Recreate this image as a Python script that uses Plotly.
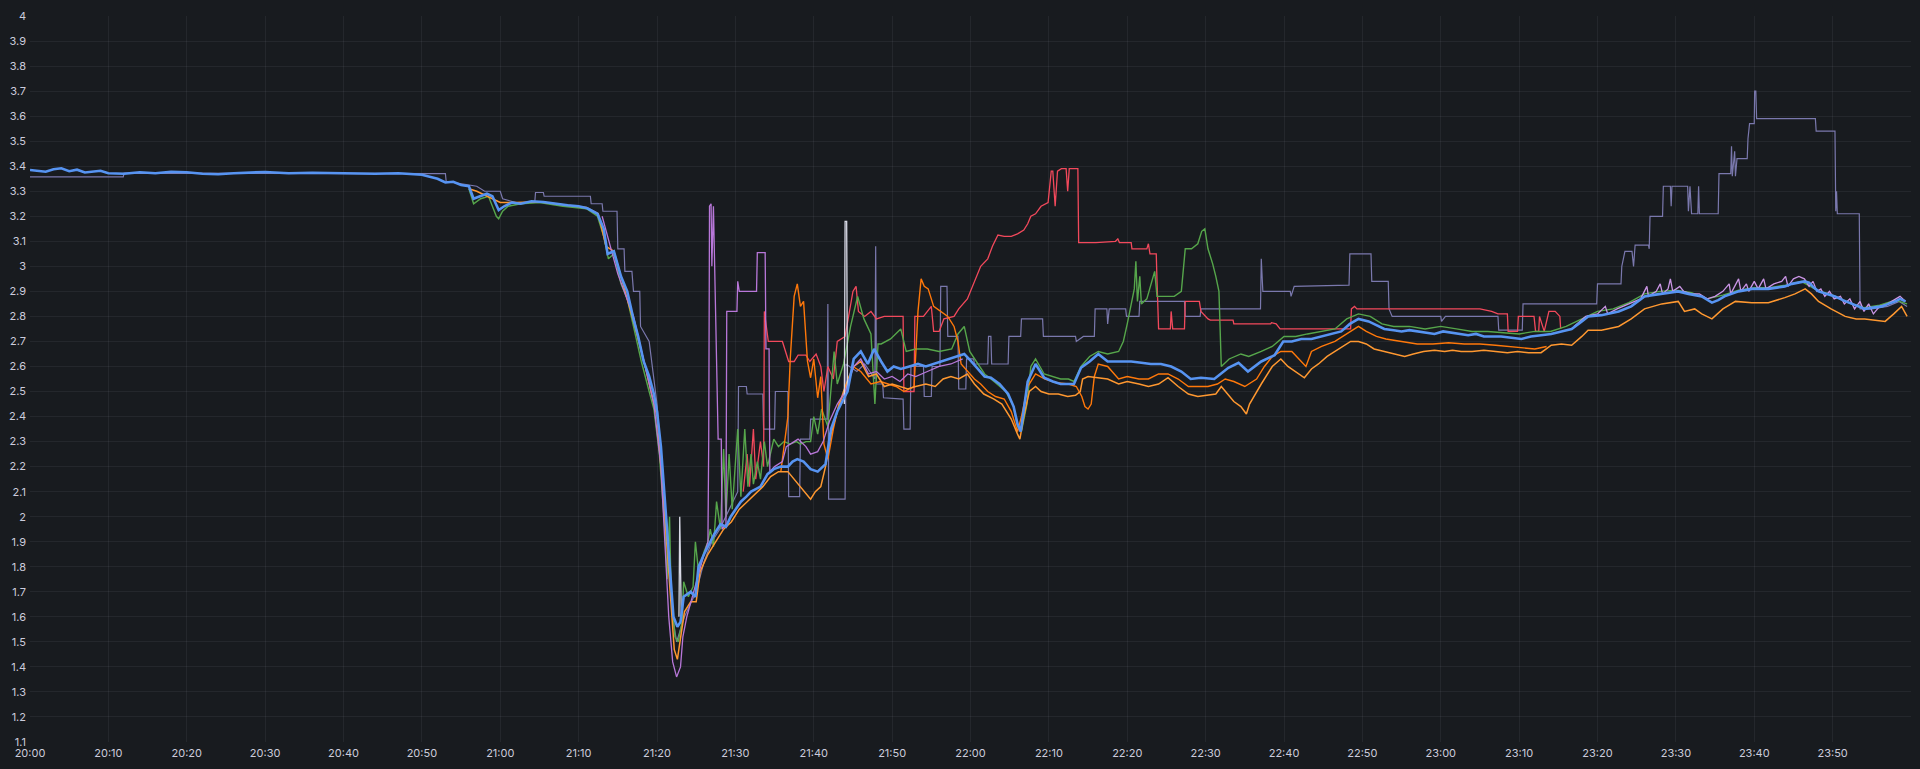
import pandas as pd
import plotly.graph_objects as go

# minutes after 20:00 and values
blue_min = [0, 1, 2, 3, 4, 5, 6, 7, 8, 9, 10, 12, 14, 16, 18, 20, 22, 24, 26, 28, 30, 33, 36, 40, 44, 47, 50, 52, 53, 54, 55, 56, 56.6, 57, 58.3, 59, 59.8, 60.5, 61.5, 62.6, 64, 65.5, 67, 68.6, 70, 71.1, 72.4, 73.2, 73.7, 74.5, 75.4, 76.2, 77, 77.6, 78.3, 79, 79.6, 80, 80.5, 81.1, 81.5, 82.1, 82.6, 83, 83.4, 84.3, 84.9, 85.3, 86, 86.5, 87.3, 88.1, 88.8, 89.4, 90.1, 90.7, 91.4, 92, 92.6, 93.2, 94.1, 94.9, 95.8, 96.7, 97.3, 97.9, 98.7, 99.6, 100.5, 101.5, 102.2, 103, 103.8, 104.3, 105.1, 106, 106.9, 107.7, 108.6, 109.4, 110.2, 111.1, 112.2, 113.3, 114.3, 115.3, 116.4, 117.5, 118.3, 119.2, 120.1, 120.9, 121.8, 122.6, 123.7, 124.8, 125.5, 126, 126.4, 127.3, 128.3, 129.4, 130.5, 131.5, 132.4, 133.2, 134.1, 135.2, 136.3, 137.5, 139.2, 140.5, 141.8, 143, 144.3, 145.6, 146.9, 148.1, 149.4, 151.1, 152.9, 154.2, 155.4, 157.1, 158.8, 159.9, 161, 162.2, 163.5, 164.8, 166, 167.3, 168.4, 169.5, 170.8, 171.8, 172.8, 174, 175, 176, 177.1, 178.1, 179.2, 180.3, 181.5, 182.5, 183.5, 184.5, 185.5, 186.6, 187.7, 189, 190.3, 191.5, 192.8, 194.1, 195.4, 196.7, 198, 198.8, 200.5, 202.7, 204.3, 206, 207, 208.2, 209.3, 210.3, 211.6, 212.4, 213.3, 214.6, 215.4, 216.2, 217.1, 218, 218.9, 219.7, 220.7, 221.8, 222.9, 223.9, 224.8, 225.7, 226.4, 227, 227.6, 228.2, 229.3, 230.3, 231.3, 232.4, 233.3, 234.1, 235.2, 236.3, 237.1, 238, 238.6, 239.3]
blue_val = [3.385, 3.38, 3.378, 3.388, 3.392, 3.38, 3.386, 3.375, 3.378, 3.382, 3.372, 3.37, 3.376, 3.372, 3.378, 3.376, 3.37, 3.368, 3.372, 3.375, 3.377, 3.372, 3.374, 3.372, 3.37, 3.372, 3.366, 3.35, 3.335, 3.338, 3.325, 3.32, 3.27, 3.275, 3.29, 3.28, 3.225, 3.24, 3.255, 3.25, 3.26, 3.257, 3.25, 3.244, 3.24, 3.232, 3.21, 3.15, 3.05, 3.06, 2.96, 2.9, 2.79, 2.72, 2.62, 2.56, 2.49, 2.42, 2.28, 2.02, 1.84, 1.6, 1.56, 1.58, 1.68, 1.7, 1.68, 1.8, 1.85, 1.88, 1.93, 1.97, 1.96, 2.0, 2.03, 2.06, 2.08, 2.1, 2.11, 2.12, 2.17, 2.19, 2.2, 2.2, 2.22, 2.23, 2.22, 2.19, 2.18, 2.21, 2.35, 2.42, 2.47, 2.5, 2.63, 2.66, 2.61, 2.67, 2.62, 2.58, 2.6, 2.59, 2.6, 2.61, 2.6, 2.61, 2.62, 2.63, 2.64, 2.65, 2.62, 2.59, 2.56, 2.555, 2.53, 2.49, 2.44, 2.37, 2.34, 2.54, 2.61, 2.555, 2.54, 2.53, 2.53, 2.53, 2.595, 2.62, 2.65, 2.62, 2.62, 2.62, 2.615, 2.61, 2.61, 2.6, 2.58, 2.55, 2.555, 2.55, 2.595, 2.615, 2.58, 2.62, 2.645, 2.7, 2.7, 2.71, 2.71, 2.72, 2.73, 2.74, 2.77, 2.79, 2.78, 2.765, 2.75, 2.745, 2.74, 2.745, 2.74, 2.735, 2.73, 2.74, 2.735, 2.73, 2.725, 2.73, 2.72, 2.72, 2.72, 2.715, 2.71, 2.72, 2.725, 2.73, 2.74, 2.75, 2.78, 2.8, 2.805, 2.82, 2.84, 2.88, 2.885, 2.89, 2.895, 2.9, 2.89, 2.885, 2.88, 2.855, 2.865, 2.88, 2.89, 2.9, 2.905, 2.91, 2.91, 2.91, 2.915, 2.92, 2.93, 2.935, 2.94, 2.935, 2.915, 2.9, 2.89, 2.88, 2.865, 2.85, 2.84, 2.83, 2.835, 2.84, 2.85, 2.86, 2.87, 2.86]

orange_a_min = [56, 57, 58, 60, 62, 65, 68, 71, 72.5, 73.5, 74.5, 75.5, 77, 78.5, 80, 81, 81.6, 82.2, 82.6, 83, 83.5, 84.3, 85, 85.5, 86.5, 87.5, 88.5, 89.5, 90.5, 91.5, 92.5, 93.5, 94.5, 95.5, 96.7, 97.5, 98.3, 99, 99.6, 100.2, 100.9, 101.5, 102.2, 103, 103.8, 104.5, 105.1, 106, 107, 108, 109, 110, 111, 112, 113, 114.3, 115.5, 116.5, 117.5, 118.5, 119.6, 120.5, 121.7, 123, 124, 125.2, 126, 126.3, 126.8, 127.5, 128.3, 129, 130, 131.2, 132.4, 133.4, 134, 134.3, 135, 136.3, 137.5, 138.9, 140, 141.5, 142.7, 144, 145.2, 146.5, 147.8, 149, 150.3, 151.3, 152, 153, 153.6, 154.5, 155.2, 155.6, 156.3, 157.1, 158.5, 159.6, 160.5, 161.5, 162.6, 163.5, 164.4, 165.5, 166.5, 167.5, 168.5, 169.5, 170.5, 171.5, 172.8, 174, 175.4, 176.5, 177.8, 179.2, 180.5, 181.5, 182.6, 184, 185.5, 187, 188.5, 189.8, 191.2, 192.8, 194.1, 195.4, 196.7, 198, 198.8, 200.5, 202.7, 204.3, 206, 208.2, 210.3, 211.1, 212.4, 213.3, 214.6, 216, 217.6, 219.7, 221.8, 223.9, 225.2, 226.5, 227.3, 228.2, 229.8, 231.6, 233, 234.1, 235.5, 236.7, 237.8, 238.8, 239.5]
orange_a_val = [3.31, 3.3, 3.285, 3.255, 3.255, 3.258, 3.246, 3.235, 3.21, 3.08, 3.06, 2.95, 2.78, 2.6, 2.4, 2.0, 1.72, 1.47, 1.43, 1.52, 1.62, 1.66, 1.66, 1.78, 1.85, 1.9, 1.95, 1.98, 2.03, 2.06, 2.09, 2.12, 2.16, 2.18, 2.18, 2.15, 2.12, 2.09, 2.07, 2.1, 2.12, 2.2, 2.33, 2.42, 2.5, 2.56, 2.6, 2.62, 2.56, 2.57, 2.52, 2.53, 2.52, 2.51, 2.52, 2.53, 2.52, 2.55, 2.56, 2.55, 2.57, 2.53, 2.49, 2.47, 2.45, 2.39, 2.33, 2.31, 2.4, 2.5, 2.52, 2.5, 2.49, 2.49, 2.48, 2.485, 2.5, 2.55, 2.56, 2.555, 2.55, 2.53, 2.54, 2.53, 2.52, 2.53, 2.555, 2.52, 2.49, 2.48, 2.485, 2.49, 2.52, 2.48, 2.46, 2.44, 2.41, 2.45, 2.49, 2.53, 2.6, 2.63, 2.6, 2.58, 2.555, 2.59, 2.61, 2.64, 2.66, 2.68, 2.7, 2.7, 2.69, 2.67, 2.66, 2.65, 2.64, 2.65, 2.66, 2.665, 2.66, 2.665, 2.66, 2.66, 2.665, 2.66, 2.655, 2.66, 2.655, 2.655, 2.685, 2.69, 2.685, 2.72, 2.745, 2.745, 2.76, 2.79, 2.83, 2.85, 2.86, 2.82, 2.83, 2.81, 2.79, 2.83, 2.86, 2.855, 2.855, 2.875, 2.89, 2.91, 2.89, 2.86, 2.83, 2.8, 2.79, 2.79, 2.785, 2.78, 2.81, 2.84, 2.8]

orange_b_min = [95.8, 96.7, 97, 97.5, 97.9, 98.3, 98.7, 99.2, 99.6, 100, 100.5, 100.9, 101.3, 101.8, 102.5, 103.2, 104, 105, 106, 107.3, 108.5, 109.4, 110.5, 111.5, 112.8, 113.3, 113.7, 114.1, 114.6, 115.3, 116.2, 117.1, 117.9, 118.4, 118.8, 119.6, 120.5, 121.3, 122.2, 123.2, 124.3, 125.2, 126, 126.5, 127.3, 128.3, 129.5, 131, 132.5, 133.5, 134.2, 134.6, 135, 135.4, 135.8, 136.3, 137.5, 138.9, 140, 141.5, 142.7, 144, 145.2, 146.5, 147.8, 149, 150.3, 151.5, 152.5, 153.6, 155, 156.5, 157.5, 158.5, 159.6, 161, 162.2, 162.8, 163.5, 164.8, 166.5, 168, 169.5, 170.5, 171.8, 173, 175, 177, 179, 181, 183, 185, 187, 189, 190.5, 192, 193.5]
orange_b_val = [2.18, 2.4, 2.63, 2.88, 2.93, 2.84, 2.86, 2.62, 2.555, 2.63, 2.475, 2.56, 2.29, 2.23, 2.35, 2.45, 2.5, 2.6, 2.58, 2.53, 2.54, 2.53, 2.52, 2.5, 2.52, 2.82, 2.95, 2.92, 2.91, 2.84, 2.82, 2.8, 2.76, 2.7, 2.61, 2.58, 2.55, 2.53, 2.5, 2.48, 2.47, 2.42, 2.34, 2.4, 2.52, 2.57, 2.55, 2.535, 2.53, 2.52, 2.48, 2.44, 2.43, 2.45, 2.56, 2.61, 2.6, 2.55, 2.56, 2.55, 2.55, 2.57, 2.57, 2.55, 2.52, 2.52, 2.52, 2.53, 2.55, 2.54, 2.52, 2.55, 2.6, 2.64, 2.66, 2.66, 2.62, 2.6, 2.66, 2.68, 2.7, 2.73, 2.76, 2.74, 2.72, 2.71, 2.7, 2.69, 2.69, 2.695, 2.69, 2.69, 2.685, 2.68, 2.675, 2.67, 2.68]

green_min = [56, 56.6, 57.5, 58.5, 59.5, 59.8, 60.3, 61, 62.6, 65, 68, 71, 72.4, 73.2, 73.8, 74.5, 75.4, 76.2, 77, 78, 79, 79.6, 80.3, 81, 81.3, 81.6, 81.8, 82.3, 82.7, 83.2, 83.4, 84, 84.6, 84.9, 85.3, 86, 86.5, 86.8, 87.2, 87.6, 88.1, 88.5, 88.8, 89.2, 89.6, 90, 90.3, 90.7, 91.2, 91.6, 92, 92.3, 92.8, 93.2, 93.7, 94.1, 94.9, 95.5, 96.2, 97, 97.8, 98.3, 99, 99.6, 100, 100.5, 101, 101.8, 102.6, 103, 103.8, 104.7, 105.6, 106.4, 107.3, 107.8, 108.2, 108.6, 109.8, 111.1, 111.8, 113, 114.5, 116, 117.6, 118.4, 119.2, 119.9, 120.9, 121.8, 123, 124.5, 125.5, 126, 126.5, 127.2, 127.7, 128.3, 129.4, 130.5, 131.5, 132.5, 133.2, 134.1, 135.2, 136.3, 137.5, 138.9, 139.5, 140, 140.9, 141.1, 141.3, 141.6, 141.8, 142.5, 143.5, 143.8, 145, 146, 146.9, 147.4, 148.2, 149, 149.5, 149.9, 150.3, 150.9, 151.3, 151.7, 152, 153, 154.5, 155.5, 157.1, 158.5, 160, 161.5, 163, 164.8, 166.5, 168, 169.5, 171, 172.5, 174, 176, 178, 180, 182, 184, 186, 188, 190, 192, 194, 196, 198, 200, 202, 204, 206, 208, 210, 212, 214, 216, 218, 220, 222, 224, 226, 228, 230, 232, 234, 236, 238, 239.5]
green_val = [3.31, 3.25, 3.27, 3.28, 3.2, 3.19, 3.22, 3.24, 3.25, 3.255, 3.24, 3.23, 3.2, 3.12, 3.03, 3.05, 2.93, 2.87, 2.76, 2.62, 2.5, 2.43, 2.25, 1.95, 1.75, 2.0, 1.7, 1.52, 1.5, 1.58, 1.74, 1.68, 1.72, 1.9, 1.78, 1.86, 1.9, 1.95, 1.88, 2.06, 1.95, 2.27, 2.0, 2.25, 2.03, 2.2, 2.35, 2.08, 2.35, 2.12, 2.25, 2.13, 2.22, 2.15, 2.3, 2.2, 2.31, 2.28, 2.3, 2.29, 2.3, 2.29, 2.3, 2.3, 2.4, 2.33, 2.43, 2.36, 2.66, 2.53, 2.61, 2.76, 2.88, 2.79, 2.73, 2.45, 2.69, 2.69, 2.71, 2.75, 2.66, 2.67, 2.67, 2.66, 2.67, 2.73, 2.76, 2.66, 2.61, 2.57, 2.54, 2.5, 2.44, 2.36, 2.34, 2.45, 2.6, 2.63, 2.57, 2.56, 2.55, 2.55, 2.54, 2.6, 2.64, 2.66, 2.65, 2.66, 2.7, 2.77, 2.91, 3.02, 2.86, 2.96, 2.85, 2.87, 2.98, 2.88, 2.88, 2.88, 2.9, 3.07, 3.07, 3.09, 3.14, 3.15, 3.07, 3.01, 2.96, 2.9, 2.6, 2.63, 2.65, 2.64, 2.66, 2.68, 2.72, 2.72, 2.73, 2.74, 2.75, 2.79, 2.81, 2.8, 2.77, 2.76, 2.76, 2.75, 2.76, 2.75, 2.74, 2.74, 2.735, 2.73, 2.74, 2.74, 2.76, 2.79, 2.82, 2.83, 2.855, 2.89, 2.9, 2.905, 2.895, 2.87, 2.885, 2.905, 2.915, 2.915, 2.925, 2.94, 2.905, 2.885, 2.855, 2.835, 2.845, 2.865, 2.85]

red_min = [91, 91.5, 91.8, 92.3, 92.6, 93.2, 93.6, 93.7, 94.2, 95, 96, 96.8, 97.5, 98, 99, 99.5, 100.3, 100.9, 101.3, 101.8, 102.5, 103, 104, 105, 105.4, 105.7, 106.5, 107.3, 108, 109, 110, 111.4, 111.5, 112.8, 112.9, 114, 115, 115.3, 116, 116.6, 117.9, 118.5, 119.6, 120.4, 121.3, 122.2, 122.8, 123.5, 124.3, 125.2, 126, 126.8, 127.3, 127.7, 128.3, 129, 129.9, 130.3, 130.5, 130.8, 131.1, 131.6, 132.2, 132.4, 132.6, 133.7, 133.8, 136, 138.5, 138.8, 139, 140.5, 140.6, 142.5, 142.7, 142.9, 143.7, 143.8, 144, 145.5, 145.6, 145.8, 147.3, 147.4, 149.2, 149.4, 150.3, 150.6, 153.5, 153.6, 158.3, 158.4, 159, 159.5, 168.5, 168.6, 169, 169.3, 185, 186.5, 187.3, 188.5, 188.6, 189.8, 189.9, 191.9, 192.1, 192.5, 192.6, 193.2, 193.8, 194.6, 195.2, 195.3]
red_val = [2.1, 2.25, 2.12, 2.35, 2.15, 2.3, 2.2, 2.82, 2.7, 2.7, 2.7, 2.62, 2.62, 2.645, 2.645, 2.62, 2.65, 2.6, 2.5, 2.6, 2.55, 2.7, 2.72, 2.9, 2.92, 2.82, 2.8, 2.82, 2.79, 2.8, 2.8, 2.8, 2.5, 2.5, 2.8, 2.8, 2.84, 2.74, 2.74, 2.79, 2.8, 2.83, 2.87, 2.93, 3.0, 3.03, 3.08, 3.125, 3.12, 3.12, 3.13, 3.145, 3.17, 3.2, 3.21, 3.24, 3.255, 3.38, 3.38, 3.24, 3.38, 3.39, 3.39, 3.3, 3.39, 3.39, 3.095, 3.095, 3.1, 3.11, 3.095, 3.095, 3.07, 3.07, 3.09, 3.05, 3.05, 2.94, 2.75, 2.75, 2.82, 2.75, 2.75, 2.86, 2.86, 2.82, 2.79, 2.785, 2.785, 2.77, 2.77, 2.775, 2.77, 2.75, 2.75, 2.83, 2.84, 2.83, 2.83, 2.82, 2.81, 2.81, 2.74, 2.74, 2.8, 2.8, 2.74, 2.74, 2.8, 2.74, 2.82, 2.82, 2.8, 2.75]

slate_min = [0, 11.9, 12, 50, 53, 53.1, 57, 58, 60, 60.3, 62, 64.4, 64.5, 65.5, 65.6, 71.5, 71.6, 73, 73.1, 74.9, 75, 75.8, 75.9, 76.8, 77, 77.8, 77.9, 79, 80, 81, 82, 82.5, 83.5, 85, 86, 87, 88, 90.3, 90.4, 91.4, 91.5, 93.5, 93.6, 95, 95.1, 96.7, 96.8, 98.2, 98.3, 99.5, 99.6, 101.7, 101.8, 101.9, 104, 104.1, 105.5, 106.5, 107.8, 107.9, 108, 108.8, 108.9, 111.4, 111.5, 112.3, 112.4, 114, 114.1, 115, 115.1, 116.1, 116.2, 117, 117.1, 118.4, 118.5, 119.4, 119.5, 120.4, 120.5, 122.2, 122.3, 122.6, 122.7, 124.8, 124.9, 126.4, 126.5, 129.2, 129.3, 133.4, 133.5, 134.4, 135.8, 135.9, 137.4, 137.5, 137.7, 139.8, 139.9, 141.5, 141.6, 147.3, 147.4, 149.3, 149.4, 157, 157.1, 157.3, 160.8, 160.9, 161.3, 168.3, 168.4, 171.1, 171.2, 173.3, 173.4, 173.8, 180, 180.1, 180.6, 187.3, 187.4, 190.4, 190.5, 199.9, 200, 203, 203.1, 203.5, 204.4, 204.6, 204.8, 206.5, 206.6, 206.7, 208.3, 208.4, 209.3, 209.4, 209.5, 211.5, 211.6, 211.8, 212, 212.8, 212.9, 213, 215.4, 215.5, 217, 217.1, 217.2, 217.5, 217.6, 217.8, 219.1, 219.2, 219.4, 220, 220.05, 220.2, 220.3, 227.8, 227.9, 230.3, 230.4, 230.5, 230.6, 233.4, 233.5, 235, 237, 238.5, 239.5]
slate_val = [3.357, 3.357, 3.372, 3.37, 3.37, 3.34, 3.32, 3.3, 3.3, 3.27, 3.255, 3.255, 3.295, 3.295, 3.28, 3.28, 3.25, 3.25, 3.22, 3.22, 3.07, 3.07, 2.98, 2.98, 2.9, 2.9, 2.76, 2.7, 2.45, 2.05, 1.6, 1.5, 1.6, 1.7, 1.82, 1.9, 1.95, 2.1, 2.52, 2.52, 2.49, 2.49, 2.35, 2.35, 2.5, 2.5, 2.08, 2.08, 2.31, 2.31, 2.39, 2.39, 2.85, 2.07, 2.07, 2.61, 2.58, 2.61, 2.55, 3.08, 2.53, 2.53, 2.475, 2.47, 2.35, 2.35, 2.6, 2.6, 2.48, 2.48, 2.6, 2.6, 2.92, 2.92, 2.72, 2.72, 2.51, 2.51, 2.63, 2.63, 2.61, 2.61, 2.72, 2.72, 2.61, 2.61, 2.72, 2.72, 2.79, 2.79, 2.72, 2.72, 2.7, 2.72, 2.72, 2.83, 2.83, 2.77, 2.83, 2.83, 2.8, 2.8, 2.86, 2.86, 2.8, 2.8, 2.83, 2.83, 3.03, 2.9, 2.9, 2.88, 2.92, 2.925, 3.05, 3.05, 2.94, 2.94, 2.83, 2.8, 2.8, 2.78, 2.8, 2.8, 2.745, 2.745, 2.85, 2.85, 2.93, 2.93, 3.0, 3.06, 3.06, 3.0, 3.085, 3.085, 3.07, 3.2, 3.2, 3.32, 3.32, 3.24, 3.32, 3.32, 3.22, 3.32, 3.21, 3.21, 3.32, 3.21, 3.21, 3.37, 3.37, 3.48, 3.36, 3.46, 3.36, 3.43, 3.43, 3.51, 3.57, 3.57, 3.7, 3.7, 3.59, 3.59, 3.54, 3.54, 3.22, 3.3, 3.21, 3.21, 2.83, 2.83, 2.84, 2.86, 2.84]

lilac_min = [73, 75, 77, 78.5, 79.6, 80.5, 81, 81.5, 82, 82.5, 83, 83.3, 83.8, 84.5, 85.3, 86, 86.5, 86.6, 86.7, 86.9, 87, 87.2, 87.5, 87.8, 88.2, 88.3, 88.8, 88.9, 90.2, 90.3, 90.5, 92.7, 92.8, 93.8, 93.9, 94.3, 94.4, 95, 96, 96.5, 97.5, 98, 99, 99.6, 100.5, 101.2, 102, 103, 104, 105.1, 106, 107, 108, 109, 110, 111, 112, 113, 114.5, 116, 117.5, 119]
lilac_val = [3.2, 2.97, 2.8, 2.6, 2.45, 2.2, 1.9, 1.6, 1.42, 1.36, 1.4, 1.52, 1.6, 1.68, 1.78, 1.85, 1.9, 2.31, 3.24, 3.25, 3.0, 3.24, 2.78, 2.31, 2.31, 1.95, 1.97, 2.82, 2.82, 2.94, 2.9, 2.9, 3.055, 3.055, 2.67, 2.67, 2.18, 2.2, 2.22, 2.28, 2.3, 2.31, 2.28, 2.25, 2.26, 2.3, 2.38, 2.45, 2.5, 2.6, 2.63, 2.57, 2.58, 2.55, 2.56, 2.54, 2.57, 2.56, 2.58, 2.6, 2.61, 2.63]

lilac_late_min = [197, 198.5, 200, 201, 201.3, 202.5, 204, 205.5, 206.3, 206.5, 207.5, 208, 208.3, 209, 209.3, 209.6, 210.5, 211, 212, 213, 214, 215, 216, 216.8, 217, 218, 218.3, 219, 219.3, 220, 220.5, 221.2, 221.5, 222.5, 223.5, 224, 224.3, 225, 225.7, 226.4, 227, 227.5, 228, 228.5, 229, 229.6, 230.2, 231, 231.5, 232.2, 232.8, 233.5, 234, 234.6, 235.2, 236, 237, 238, 238.6, 239.3]
lilac_late_val = [2.76, 2.8, 2.81, 2.84, 2.81, 2.83, 2.85, 2.87, 2.92, 2.88, 2.9, 2.93, 2.89, 2.91, 2.95, 2.9, 2.92, 2.9, 2.89, 2.89, 2.87, 2.88, 2.9, 2.93, 2.89, 2.95, 2.9, 2.93, 2.9, 2.94, 2.91, 2.95, 2.91, 2.93, 2.94, 2.96, 2.92, 2.95, 2.96, 2.95, 2.92, 2.94, 2.9, 2.91, 2.88, 2.9, 2.87, 2.88, 2.85, 2.87, 2.83, 2.86, 2.82, 2.85, 2.81, 2.84, 2.85, 2.87, 2.88, 2.86]

pale_min = [82.8, 82.9, 83.1, None, 103.9, 104.0, 104.2, 104.3]
pale_val = [1.6, 2.0, 1.6, None, 2.45, 3.18, 3.18, 2.5]

x_tick_labels = ["20:00", "20:10", "20:20", "20:30", "20:40", "20:50", "21:00", "21:10", "21:20", "21:30", "21:40", "21:50",
                 "22:00", "22:10", "22:20", "22:30", "22:40", "22:50", "23:00", "23:10", "23:20", "23:30", "23:40", "23:50"]
y_tick_labels = ["1.1", "1.2", "1.3", "1.4", "1.5", "1.6", "1.7", "1.8", "1.9", "2", "2.1", "2.2", "2.3", "2.4", "2.5",
                 "2.6", "2.7", "2.8", "2.9", "3", "3.1", "3.2", "3.3", "3.4", "3.5", "3.6", "3.7", "3.8", "3.9", "4"]

base = pd.Timestamp("2023-03-10 20:00")


def to_time(mins):
    return [None if m is None else base + pd.Timedelta(minutes=m) for m in mins]


series = [
    (slate_min, slate_val, "#7a78ad", 1.2),
    (red_min, red_val, "#f2495c", 1.3),
    (green_min, green_val, "#56a64b", 1.4),
    (orange_b_min, orange_b_val, "#ff780a", 1.4),
    (orange_a_min, orange_a_val, "#ff9830", 1.5),
    (lilac_min, lilac_val, "#b877d9", 1.3),
    (lilac_late_min, lilac_late_val, "#ca95e5", 1.3),
    (pale_min, pale_val, "#d8d9e6", 1.3),
    (blue_min, blue_val, "#5794f2", 2.6),
]

fig = go.Figure()
for mins, vals, color, width in series:
    fig.add_trace(go.Scatter(x=to_time(mins), y=vals, mode="lines",
                             line=dict(color=color, width=width), connectgaps=False))

tick_times = [pd.Timestamp(f"2023-03-10 {t}") for t in x_tick_labels]
tick_vals_y = [float(v) for v in y_tick_labels]

fig.update_layout(
    width=1920,
    height=769,
    showlegend=False,
    paper_bgcolor="#181b1f",
    plot_bgcolor="#181b1f",
    margin=dict(l=30, r=9, t=12, b=20),
    font=dict(family="Inter, Roboto, sans-serif", size=11, color="#ccccdc"),
    xaxis=dict(
        range=[base, base + pd.Timedelta(minutes=240)],
        tickvals=tick_times,
        ticktext=x_tick_labels,
        showgrid=True,
        gridcolor="rgba(204,204,220,0.07)",
        zeroline=False,
        showline=False,
        ticks="",
        ticklabelstandoff=3,
        tickfont=dict(size=11, color="#ccccdc"),
    ),
    yaxis=dict(
        range=[1.1, 4.0],
        tickvals=tick_vals_y,
        ticktext=y_tick_labels,
        showgrid=True,
        gridcolor="rgba(204,204,220,0.07)",
        zeroline=False,
        showline=False,
        ticks="",
        ticklabelstandoff=3,
        tickfont=dict(size=11, color="#ccccdc"),
    ),
)

page_css = ("document.documentElement.style.margin='0';document.documentElement.style.overflow='hidden';"
            "document.body.style.margin='0';document.body.style.overflow='hidden';"
            "document.body.style.background='#181b1f';")
fig.write_html("out.html", config={"displayModeBar": False}, post_script=page_css)
